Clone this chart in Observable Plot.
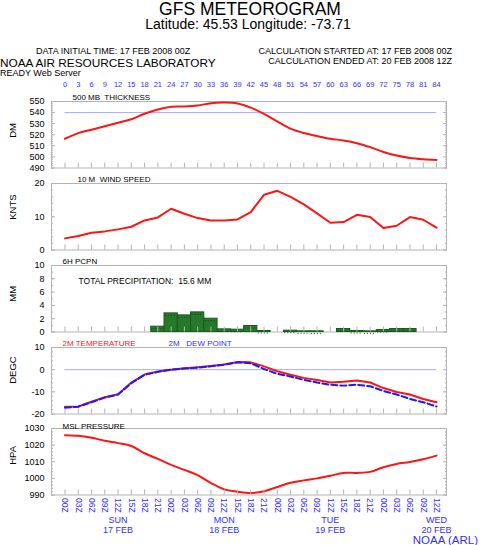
<!DOCTYPE html>
<html><head><meta charset="utf-8">
<script src="https://cdn.jsdelivr.net/npm/d3@7"></script>
<script src="https://cdn.jsdelivr.net/npm/@observablehq/plot@0.6"></script>
<style>
body{margin:0;background:#fff;}
#root{position:relative;width:480px;height:545px;overflow:hidden;font-family:"Liberation Sans",Arial,sans-serif;background:#fff;color:#000;}
.p{position:absolute;left:0;}
svg text{white-space:pre;}
</style></head><body><div id="root"></div>
<script>
// ---------------- data ----------------
const hours = [0,3,6,9,12,15,18,21,24,27,30,33,36,39,42,45,48,51,54,57,60,63,66,69,72,75,78,81,84];
const hourTickLabels = ["00Z","03Z","06Z","09Z","12Z","15Z","18Z","21Z","00Z","03Z","06Z","09Z","12Z","15Z","18Z","21Z","00Z","03Z","06Z","09Z","12Z","15Z","18Z","21Z","00Z","03Z","06Z","09Z","12Z"];
const thickness = [516.4,521.5,524.5,527.6,530.9,534,539,542.7,545.2,545.5,546.4,548.5,549,548.2,544.5,538.8,532,525.5,521.5,518.8,516.4,514.8,512.4,508.8,504.5,501.2,499,497.9,497.3];
const thicknessRef = 540;
const windSpeed = [3.5,4.2,5.2,5.6,6.2,7.0,8.9,9.8,12.4,10.9,9.6,8.9,8.9,9.2,11.4,16.6,17.8,16.0,13.7,11.0,8.2,8.4,10.6,9.9,6.6,7.3,9.9,9.1,6.7];
const precip = [0,0,0,0,0,0,0,0.8,2.8,2.5,2.95,2.0,0.4,0.35,0.9,0.15,0,0.2,0.1,0.1,0,0.45,0.15,0.1,0.3,0.45,0.45,0,0];
const temperature = [-16.7,-16.6,-14.5,-12.4,-11.1,-5.8,-2.2,-0.85,0,0.6,1.1,1.7,2.3,3.5,3.3,1.5,-0.7,-2.3,-3.7,-4.7,-5.8,-5.5,-4.9,-5.8,-8.3,-10.1,-11.2,-13.2,-14.7];
const dewPoint = [-17.2,-16.7,-14.7,-12.6,-11.2,-6.1,-2.3,-1.0,0,0.5,0.9,1.5,2.3,3.3,2.9,0.3,-1.9,-3.1,-4.6,-5.8,-6.8,-7.2,-6.8,-7.5,-9.6,-11.2,-13.2,-14.7,-16.6];
const tempRef = 0;
const pressure = [1026,1025.6,1024.4,1022.6,1021.2,1019.5,1015.1,1011.7,1008.1,1005.1,1001.9,997.2,993.4,992,991.2,992.2,994.8,997.4,998.8,1000,1001.6,1003.3,1003.3,1003.9,1006.7,1008.7,1009.9,1011.5,1013.7];
const dayHours = [12,36,60,84];
const dayLabels = ["SUN\n17 FEB","MON\n18 FEB","TUE\n19 FEB","WED\n20 FEB"];
const thickTicks = [490,500,510,520,530,540,550];
const windTicks = [0,10,20];
const precipTicks = [0,2,4,6,8,10];
const tempTicks = [-20,-10,0,10];
const presTicks = [990,1000,1010,1020,1030];

// ---------------- layout ----------------
const root = document.getElementById("root");
const FONT = '"Liberation Sans",Arial,sans-serif';
const BLUE = "#2f2fff";
const GRID = "#b4b4b4";
const RED = "#ff1414";
const FH = 66.5;
const xDomain = [-3.05, 86.26];

// header / footer texts in an overlay svg
const over = d3.select(root).append("svg")
  .attr("width", 480).attr("height", 545)
  .style("position", "absolute").style("left", 0).style("top", 0)
  .style("font-family", FONT).style("pointer-events", "none");
function txt(s, {x, base, fs, anchor = "start", color = "#000"}) {
  over.append("text").attr("x", x).attr("y", base).attr("font-size", fs)
    .attr("text-anchor", anchor).attr("fill", color).text(s);
}
txt("GFS METEOROGRAM", {x: 250, base: 15, fs: 17.5, anchor: "middle"});
txt("Latitude: 45.53 Longitude: -73.71", {x: 248, base: 28.5, fs: 14, anchor: "middle"});
txt("DATA INITIAL TIME: 17 FEB 2008 00Z", {x: 36, base: 53.5, fs: 9});
txt("CALCULATION STARTED AT: 17 FEB 2008 00Z", {x: 452, base: 53.5, fs: 9, anchor: "end"});
txt("CALCULATION ENDED AT: 20 FEB 2008 12Z", {x: 452, base: 63.5, fs: 9, anchor: "end"});
txt("NOAA AIR RESOURCES LABORATORY", {x: 0, base: 66.7, fs: 11.8});
txt("READY Web Server", {x: 0, base: 76, fs: 9});

function minorsOf(ticks, step) {
  return d3.range(ticks[0], ticks[ticks.length - 1] + step / 2, step);
}

function panel({top, mt, mb, domain, ticks, step, label, title, titleDy = -1.5, extra = [], after = []}) {
  const minors = minorsOf(ticks, step);
  const marks = [
    Plot.frame({stroke: GRID}),
    ...extra,
    Plot.axisY(minors, {anchor: "left", tickSize: -2, tickFormat: () => "", color: GRID, label: null}),
    Plot.axisY(ticks, {anchor: "left", tickSize: -4, tickFormat: () => "", color: GRID, label: null}),
    Plot.axisY(minors, {anchor: "right", tickSize: -2, tickFormat: () => "", color: GRID, label: null}),
    Plot.axisY(ticks, {anchor: "right", tickSize: -4, tickFormat: () => "", color: GRID, label: null}),
    Plot.axisX(hours, {anchor: "bottom", tickSize: -5, tickFormat: () => "", color: GRID, label: null}),
    Plot.axisY(ticks, {anchor: "left", tickSize: 0, tickPadding: 7, fontSize: 9, color: "#000", label: null, tickFormat: d => String(d)}),
    Plot.text([label], {frameAnchor: "left", dx: -39, dy: 3, rotate: -90, fontSize: 9.5, fill: "#000"}),
    ...title.map(t => Plot.text([t.s], {frameAnchor: "top-left", dx: t.dx, dy: t.dy ?? titleDy, textAnchor: "start", lineAnchor: "bottom", fontSize: 8, fill: t.color || "#000"})),
    ...after
  ];
  const svg = Plot.plot({
    width: 480, height: mt + FH + mb,
    marginLeft: 51, marginRight: 34, marginTop: mt, marginBottom: mb,
    x: {domain: xDomain, axis: null},
    y: {domain, axis: null},
    style: {fontFamily: FONT, background: "transparent", overflow: "visible"},
    marks
  });
  svg.classList.add("p");
  svg.style.top = (top - mt) + "px";
  root.insertBefore(svg, root.firstChild);
}

// Panel 1: thickness
panel({top: 101, mt: 24, mb: 2, domain: [490, 550], ticks: thickTicks, step: 2, label: "DM",
  title: [{s: "500 MB  THICKNESS", dx: 21}],
  extra: [
    Plot.ruleY([thicknessRef], {x1: hours[0], x2: hours[hours.length - 1], stroke: "#a8a8ff"}),
    Plot.lineY(thickness, {x: hours, stroke: RED, strokeWidth: 2, curve: "catmull-rom"})
  ],
  after: [
    Plot.axisX(hours, {anchor: "top", tickSize: 0, tickPadding: 15, fontSize: 7.5, color: BLUE, label: null})
  ]
});

// Panel 2: wind
panel({top: 183, mt: 14, mb: 2, domain: [0, 20], ticks: windTicks, step: 2, label: "KNTS",
  title: [{s: "10 M  WIND SPEED", dx: 26}],
  extra: [
    Plot.lineY(windSpeed, {x: hours, stroke: RED, strokeWidth: 2})
  ]
});

// Panel 3: precipitation
const precipRows = hours.map((h, i) => ({h, v: precip[i]})).filter(d => d.v > 0);
panel({top: 265, mt: 14, mb: 2, domain: [0, 10], ticks: precipTicks, step: 1, label: "MM",
  title: [{s: "6H PCPN", dx: 11}],
  extra: [
    Plot.rectY(precipRows, {x1: d => d.h - 1.5, x2: d => d.h + 1.5, y: "v", fill: "#26782a", stroke: "#1a5a1c", strokeWidth: 1}),
    Plot.ruleY(precipRows, {x1: d => d.h - 1.3, x2: d => d.h + 1.3, y: "v", dy: 2, stroke: "#104010", strokeDasharray: "1,2"})
  ],
  after: [
    Plot.text(["TOTAL PRECIPITATION:  15.6 MM"], {frameAnchor: "top-left", dx: 27, dy: 12, textAnchor: "start", fontSize: 8.5, fill: "#000"})
  ]
});

// Panel 4: temperature / dew point
panel({top: 347, mt: 14, mb: 2, domain: [-20, 10], ticks: tempTicks, step: 2, label: "DEGC",
  title: [{s: "2M TEMPERATURE", dx: 11, color: RED}, {s: "2M   DEW POINT", dx: 117, color: BLUE}],
  extra: [
    Plot.ruleY([tempRef], {x1: hours[0], x2: hours[hours.length - 1], stroke: "#a8a8ff"}),
    Plot.lineY(temperature, {x: hours, stroke: RED, strokeWidth: 2}),
    Plot.lineY(dewPoint, {x: hours, stroke: "#1a1aff", strokeWidth: 2, strokeDasharray: "6,3"})
  ]
});

// Panel 5: MSL pressure + time axis
panel({top: 428, mt: 14, mb: 51, domain: [990, 1030], ticks: presTicks, step: 2, label: "HPA",
  title: [{s: "MSL PRESSURE", dx: 11, dy: 0}],
  extra: [
    Plot.lineY(pressure, {x: hours, stroke: RED, strokeWidth: 2, curve: "catmull-rom"})
  ],
  after: [
    Plot.axisX(hours, {anchor: "bottom", tickSize: 0, tickPadding: 3, tickRotate: 90, fontSize: 8.5, color: BLUE, label: null,
      tickFormat: d => hourTickLabels[hours.indexOf(d)]}),
    Plot.text(dayLabels, {x: dayHours, frameAnchor: "bottom", dy: 21, lineAnchor: "top", lineHeight: 1.12, fontSize: 9, fill: BLUE})
  ]
});

txt("NOAA (ARL)", {x: 478, base: 544, fs: 11.5, anchor: "end", color: BLUE});
</script>
</body></html>
